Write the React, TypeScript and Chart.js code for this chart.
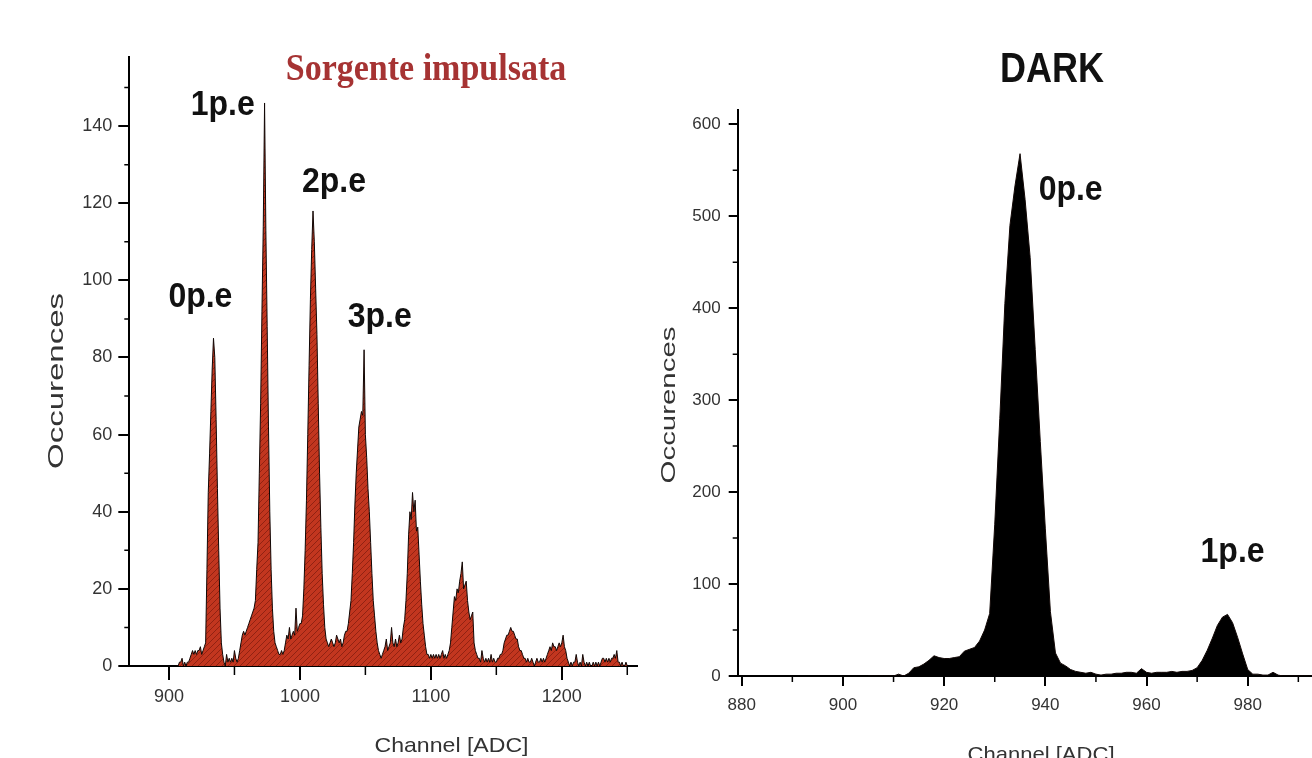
import React, { useEffect, useRef } from 'react';
import { Chart, registerables } from 'chart.js';

Chart.register(...registerables);

// ---------- DATA ----------
// Left panel: pulsed source spectrum, one value per ADC channel starting at LEFT_START_CHANNEL
const LEFT_START_CHANNEL = 905;
const LEFT_COUNTS = [
  0, 0, 0, 1, 1, 2, 0, 1, 0, 1, // 905
  1, 2, 3, 4, 3, 4, 3, 4, 4, 5, // 915
  3, 4, 5, 6, 25, 45, 55, 66, 77, 85, // 925
  80, 64, 46, 30, 15, 6, 3, 1, 0, 3, // 935
  1, 2, 1, 2, 1, 4, 2, 1, 2, 4, // 945
  6, 8, 9, 8, 9, 10, 11, 12, 13, 14, // 955
  15, 17, 25, 32, 50, 68, 92, 114, 146, 113, // 965
  88, 62, 40, 25, 15, 9, 6, 5, 4, 3, // 975
  3, 4, 3, 4, 6, 8, 7, 10, 7, 8, // 985
  9, 8, 15, 9, 10, 11, 11, 13, 20, 30, // 995
  43, 60, 78, 95, 108, 118, 110, 98, 86, 68, // 1005
  50, 36, 24, 16, 10, 7, 6, 5, 6, 7, // 1015
  6, 5, 6, 8, 7, 6, 7, 5, 6, 8, // 1025
  9, 9, 11, 14, 17, 24, 32, 42, 50, 56, // 1035
  62, 64, 66, 65, 82, 60, 54, 46, 40, 32, // 1045
  24, 17, 13, 9, 6, 4, 3, 2, 3, 4, // 1055
  5, 7, 4, 5, 6, 10, 6, 5, 7, 5, // 1065
  6, 8, 6, 7, 10, 12, 17, 24, 34, 40, // 1075
  38, 45, 40, 43, 35, 36, 29, 22, 16, 11, // 1085
  8, 5, 3, 3, 2, 3, 2, 3, 2, 3, // 1095
  2, 3, 2, 3, 4, 2, 3, 2, 3, 4, // 1105
  6, 10, 14, 18, 17, 20, 19, 22, 24, 27, // 1115
  20, 21, 22, 17, 14, 12, 13, 14, 6, 4, // 1125
  3, 2, 2, 1, 4, 2, 1, 2, 1, 2, // 1135
  1, 3, 1, 2, 1, 1, 2, 2, 3, 3, // 1145
  4, 6, 7, 8, 8, 9, 10, 9, 9, 8, // 1155
  7, 7, 5, 4, 4, 3, 2, 2, 1, 2, // 1165
  1, 1, 2, 1, 0, 1, 2, 1, 1, 2, // 1175
  1, 2, 1, 2, 3, 4, 5, 4, 6, 5, // 1185
  5, 4, 5, 6, 5, 6, 8, 5, 4, 2, // 1195
  1, 0, 1, 0, 1, 1, 3, 1, 0, 1, // 1205
  0, 3, 1, 0, 1, 0, 1, 0, 0, 1, // 1215
  0, 1, 0, 1, 0, 1, 2, 2, 1, 2, // 1225
  1, 2, 1, 2, 2, 3, 2, 4, 1, 1, // 1235
  0, 1, 0, 0, 1, 0, // 1245
];

// Right panel: dark counts spectrum
const RIGHT_START_CHANNEL = 905;
const RIGHT_COUNTS = [
  0, 0, 0, 0, 0, 0, 2, 0, 3, 9, // 905
  10, 13, 17, 22, 20, 19, 19, 20, 21, 27, // 915
  29, 31, 38, 50, 68, 165, 280, 405, 490, 533, // 925
  568, 518, 455, 355, 255, 160, 70, 25, 14, 11, // 935
  7, 5, 4, 3, 4, 2, 1, 2, 2, 3, // 945
  3, 4, 4, 3, 8, 4, 3, 4, 4, 4, // 955
  5, 4, 5, 5, 6, 9, 17, 28, 41, 55, // 965
  64, 67, 58, 42, 24, 7, 2, 2, 1, 1, // 975
  4, 1, 0, 0, 0, 0, 0, 0, 0, // 985
];

// Axes ticks
const LEFT_X_TICKS = [900, 1000, 1100, 1200];
const LEFT_X_MINOR = [950, 1050, 1150, 1250];
const LEFT_Y_TICKS = [0, 20, 40, 60, 80, 100, 120, 140];
const LEFT_Y_MINOR = [10, 30, 50, 70, 90, 110, 130, 150];
const RIGHT_X_TICKS = [880, 900, 920, 940, 960, 980];
const RIGHT_X_MINOR = [890, 910, 930, 950, 970, 990];
const RIGHT_Y_TICKS = [0, 100, 200, 300, 400, 500, 600];
const RIGHT_Y_MINOR = [50, 150, 250, 350, 450, 550];

// Peak annotations (label, channel, occurences at label baseline)
const LEFT_PEAK_LABELS = ['0p.e', '1p.e', '2p.e', '3p.e'];
const LEFT_PEAK_X = [924, 941, 1026, 1061];
const LEFT_PEAK_Y = [93, 143, 123, 88];
const RIGHT_PEAK_LABELS = ['0p.e', '1p.e'];
const RIGHT_PEAK_X = [945, 977];
const RIGHT_PEAK_Y = [518, 124];

// Texts
const LEFT_TITLE = 'Sorgente impulsata';
const RIGHT_TITLE = 'DARK';
const X_TITLE = 'Channel [ADC]';
const Y_TITLE = 'Occurences';

const SANS = '"Liberation Sans", Arial, Helvetica, sans-serif';
const SERIF = '"Liberation Serif", "Times New Roman", serif';

type TextOpts = {
  font: string;
  color: string;
  align?: CanvasTextAlign;
  baseline?: CanvasTextBaseline;
  sx?: number;
  sy?: number;
  rot?: number;
};

function drawText(ctx: CanvasRenderingContext2D, s: string, x: number, y: number, o: TextOpts) {
  ctx.save();
  ctx.translate(x, y);
  if (o.rot) ctx.rotate(o.rot);
  ctx.scale(o.sx ?? 1, o.sy ?? 1);
  ctx.font = o.font;
  ctx.fillStyle = o.color;
  ctx.textAlign = o.align ?? 'center';
  ctx.textBaseline = o.baseline ?? 'alphabetic';
  ctx.fillText(s, 0, 0);
  ctx.restore();
}

function makeHatch(): CanvasPattern | string {
  const c = document.createElement('canvas');
  c.width = 6;
  c.height = 6;
  const g = c.getContext('2d');
  if (!g) return '#C0351E';
  g.fillStyle = '#C2361F';
  g.fillRect(0, 0, 6, 6);
  g.strokeStyle = 'rgba(105,18,8,0.55)';
  g.lineWidth = 1;
  g.beginPath();
  g.moveTo(0, 6); g.lineTo(6, 0);
  g.moveTo(-3, 3); g.lineTo(3, -3);
  g.moveTo(3, 9); g.lineTo(9, 3);
  g.stroke();
  return g.createPattern(c, 'repeat') ?? '#C0351E';
}

type Spec = {
  start: number;
  counts: number[];
  fill: any;
  xMin: number; xMax: number; yMin: number; yMax: number;
  xTicks: number[]; xMinor: number[]; yTicks: number[]; yMinor: number[];
  padding: { left: number; right: number; top: number; bottom: number };
  yWidth: number; xHeight: number;
  xTickLen: number; yTickLen: number; xMinorLen: number; yMinorLen: number;
  xPad: number; yPad: number; tickFont: number;
  decorate: (chart: any, ctx: CanvasRenderingContext2D) => void;
};

function buildChart(canvas: HTMLCanvasElement, spec: Spec) {
  const points = spec.counts.map((c, i) => ({ x: spec.start + i, y: c }));
  const decor = {
    id: 'decor',
    afterDraw(chart: any) {
      const { ctx } = chart;
      const xs = chart.scales.x;
      const ys = chart.scales.y;
      ctx.save();
      ctx.strokeStyle = '#000';
      ctx.lineWidth = 1.5;
      ctx.beginPath();
      spec.xMinor.forEach((v) => {
        const px = xs.getPixelForValue(v);
        ctx.moveTo(px, xs.top);
        ctx.lineTo(px, xs.top + spec.xMinorLen);
      });
      spec.yMinor.forEach((v) => {
        const py = ys.getPixelForValue(v);
        ctx.moveTo(ys.right, py);
        ctx.lineTo(ys.right - spec.yMinorLen, py);
      });
      ctx.stroke();
      ctx.restore();
      spec.decorate(chart, ctx);
    },
  };
  const tickFont = { family: SANS, size: spec.tickFont };
  return new Chart(canvas, {
    type: 'line',
    data: {
      datasets: [
        {
          data: points,
          borderColor: '#120806',
          borderWidth: 1,
          backgroundColor: spec.fill,
          fill: 'origin',
          pointRadius: 0,
          tension: 0,
        },
      ],
    },
    options: {
      responsive: false,
      animation: false,
      devicePixelRatio: 1,
      events: [],
      layout: { padding: spec.padding },
      plugins: { legend: { display: false }, tooltip: { enabled: false }, title: { display: false } },
      scales: {
        x: {
          type: 'linear',
          min: spec.xMin,
          max: spec.xMax,
          afterBuildTicks: (s: any) => {
            s.ticks = spec.xTicks.map((v) => ({ value: v }));
          },
          afterFit: (s: any) => {
            s.height = spec.xHeight;
          },
          border: { display: true, color: '#000', width: 2 },
          grid: { display: true, drawOnChartArea: false, drawTicks: true, tickLength: spec.xTickLen, color: '#000', lineWidth: 2 },
          ticks: { padding: spec.xPad, color: '#333', font: tickFont, maxRotation: 0, autoSkip: false, callback: (v: any) => String(v) },
        },
        y: {
          type: 'linear',
          min: spec.yMin,
          max: spec.yMax,
          afterBuildTicks: (s: any) => {
            s.ticks = spec.yTicks.map((v) => ({ value: v }));
          },
          afterFit: (s: any) => {
            s.width = spec.yWidth;
          },
          border: { display: true, color: '#000', width: 2 },
          grid: { display: true, drawOnChartArea: false, drawTicks: true, tickLength: spec.yTickLen, color: '#000', lineWidth: 2 },
          ticks: { padding: spec.yPad, color: '#333', font: tickFont, autoSkip: false, callback: (v: any) => String(v) },
        },
      },
    } as any,
    plugins: [decor],
  });
}

function drawPeakLabels(chart: any, ctx: CanvasRenderingContext2D, labels: string[], xs: number[], ys: number[]) {
  const sx = chart.scales.x;
  const sy = chart.scales.y;
  labels.forEach((l, i) => {
    drawText(ctx, l, sx.getPixelForValue(xs[i]), sy.getPixelForValue(ys[i]), {
      font: `bold 32px ${SANS}`,
      color: '#111',
      sy: 1.12,
    });
  });
}

export default function App() {
  const leftRef = useRef<HTMLCanvasElement>(null);
  const rightRef = useRef<HTMLCanvasElement>(null);

  useEffect(() => {
    const charts: Chart[] = [];
    if (leftRef.current) {
      charts.push(
        buildChart(leftRef.current, {
          start: LEFT_START_CHANNEL,
          counts: LEFT_COUNTS,
          fill: makeHatch(),
          xMin: 869.7, xMax: 1257.2, yMin: 0, yMax: 158,
          xTicks: LEFT_X_TICKS, xMinor: LEFT_X_MINOR, yTicks: LEFT_Y_TICKS, yMinor: LEFT_Y_MINOR,
          padding: { left: 69.3, right: 23.3, top: 56.7, bottom: 42 },
          yWidth: 60, xHeight: 50,
          xTickLen: 14, yTickLen: 11, xMinorLen: 9, yMinorLen: 5,
          xPad: 6, yPad: 6, tickFont: 18,
          decorate: (chart, ctx) => {
            drawPeakLabels(chart, ctx, LEFT_PEAK_LABELS, LEFT_PEAK_X, LEFT_PEAK_Y);
            drawText(ctx, LEFT_TITLE, 426, 80, { font: `bold 34px ${SERIF}`, color: '#A63333', sy: 1.12 });
            drawText(ctx, Y_TITLE, 57, 381, { font: `22px ${SANS}`, color: '#333', baseline: 'middle', rot: -Math.PI / 2, sx: 1.5 });
            drawText(ctx, X_TITLE, 451.5, 752, { font: `21px ${SANS}`, color: '#333', sx: 1.1 });
          },
        })
      );
    }
    if (rightRef.current) {
      charts.push(
        buildChart(rightRef.current, {
          start: RIGHT_START_CHANNEL,
          counts: RIGHT_COUNTS,
          fill: '#000',
          xMin: 879.2, xMax: 992.7, yMin: 0, yMax: 615.5,
          xTicks: RIGHT_X_TICKS, xMinor: RIGHT_X_MINOR, yTicks: RIGHT_Y_TICKS, yMinor: RIGHT_Y_MINOR,
          padding: { left: 27.7, right: 0, top: 110, bottom: 32 },
          yWidth: 50, xHeight: 50,
          xTickLen: 10, yTickLen: 9, xMinorLen: 6, yMinorLen: 5,
          xPad: 9, yPad: 8, tickFont: 17,
          decorate: (chart, ctx) => {
            drawPeakLabels(chart, ctx, RIGHT_PEAK_LABELS, RIGHT_PEAK_X, RIGHT_PEAK_Y);
            drawText(ctx, RIGHT_TITLE, 392, 82, { font: `bold 36px ${SANS}`, color: '#111', sy: 1.2 });
            drawText(ctx, Y_TITLE, 9, 405, { font: `21px ${SANS}`, color: '#333', baseline: 'middle', rot: -Math.PI / 2, sx: 1.4 });
            drawText(ctx, X_TITLE, 381, 761, { font: `21px ${SANS}`, color: '#333', sx: 1.05 });
          },
        })
      );
    }
    return () => charts.forEach((c) => c.destroy());
  }, []);

  return (
    <div style={{ position: 'fixed', left: 0, top: 0, width: 1312, height: 758, background: '#fff', overflow: 'hidden' }}>
      <canvas ref={leftRef} width={660} height={758} style={{ position: 'absolute', left: 0, top: 0, width: 660, height: 758 }} />
      <canvas ref={rightRef} width={652} height={758} style={{ position: 'absolute', left: 660, top: 0, width: 652, height: 758 }} />
    </div>
  );
}
